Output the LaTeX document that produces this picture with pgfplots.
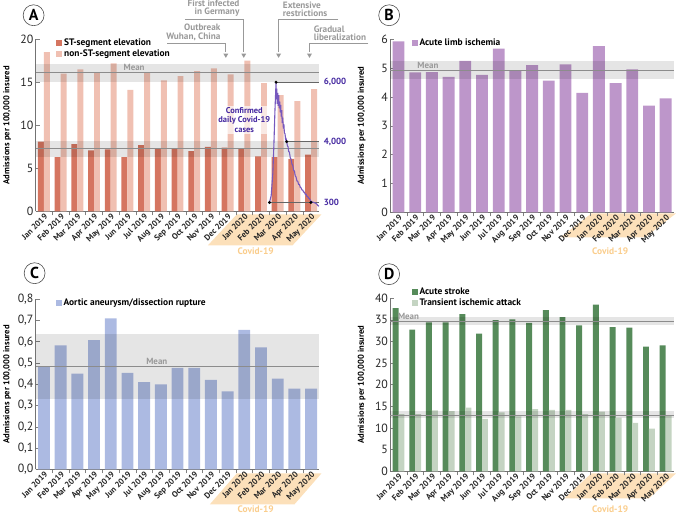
\documentclass[border=0pt]{standalone}
\usepackage{fontspec}
\setmainfont{PT Sans}
\usepackage{pgfplots}
\usepackage{pgfplotstable}
\pgfplotsset{compat=1.18}

\definecolor{stcol}{RGB}{213,117,96}
\definecolor{nstcol}{RGB}{240,192,178}
\definecolor{limbcol}{RGB}{189,150,202}
\definecolor{aortcol}{RGB}{172,186,226}
\definecolor{strokecol}{RGB}{86,139,90}
\definecolor{tiacol}{RGB}{196,212,194}
\definecolor{covline}{RGB}{118,88,190}
\definecolor{covtxt}{RGB}{68,40,160}
\definecolor{bandcol}{RGB}{252,224,186}
\definecolor{covlbl}{RGB}{250,205,140}

% monthly admissions per 100,000 insured
\pgfplotstableread{
idx st  nst  limb aortic stroke tia
0   8.1 18.5 5.92 0.485  37.7   13.2
1   6.3 16.0 4.85 0.583  32.7   13.2
2   7.8 16.5 4.86 0.450  34.4   14.1
3   7.1 16.1 4.69 0.607  34.4   13.9
4   7.2 17.2 5.25 0.710  36.3   14.7
5   6.3 14.1 4.76 0.454  31.8   12.1
6   7.7 16.1 5.67 0.410  34.9   13.6
7   7.3 15.2 4.91 0.400  35.1   12.7
8   7.3 15.7 5.10 0.477  34.3   14.4
9   7.0 16.3 4.56 0.477  37.2   14.2
10  7.5 16.6 5.13 0.421  35.6   14.2
11  7.4 15.9 4.14 0.367  33.7   13.2
12  7.3 17.5 5.76 0.655  38.5   13.8
13  6.4 14.9 4.48 0.573  33.3   12.4
14  6.3 13.5 4.95 0.426  33.2   11.2
15  6.1 12.8 3.70 0.380  28.8    9.9
16  6.6 14.2 3.95 0.380  29.1   12.9
}\monthly

\pgfplotsset{
  panel/.style={
    scale only axis, width=285bp,
    xmin=-0.5, xmax=16.5, ymin=0, enlargelimits=false,
    axis x line=bottom, axis y line=left,
    axis line style={-, draw=black!55, line width=0.6pt},
    tick align=inside, major tick length=0pt, minor tick length=4bp,
    tick style={draw=black!50, line width=0.5pt},
    xtick={0,...,16},
    minor xtick={0.5,1.5,...,15.5},
    xticklabels={Jan 2019,Feb 2019,Mar 2019,Apr 2019,May 2019,Jun 2019,Jul 2019,Aug 2019,Sep 2019,Oct 2019,Nov 2019,Dec 2019,Jan 2020,Feb 2020,Mar 2020,Apr 2020,May 2020},
    x tick label style={rotate=45, anchor=north east, inner sep=1pt,
      font=\bfseries\fontsize{8.4}{9}\selectfont, text=black!85},
    y tick label style={font=\fontsize{12}{13}\selectfont, text=black!85, inner sep=2pt},
    /pgf/number format/assume math mode=true,
    ylabel={Admissions per 100,000 insured},
    ylabel style={at={(axis description cs:-0.1,0.5)}, anchor=center,
      font=\bfseries\fontsize{8.6}{9}\selectfont},
    ybar,
    legend cell align=left,
    legend style={draw=none, fill=none, anchor=north west, inner sep=0pt,
      font=\bfseries\fontsize{9.5}{10}\selectfont, row sep=-1.5pt},
    legend image code/.code={\fill[##1] (0bp,-3bp) rectangle (6bp,3bp);},
  },
}

% mean band: low, mean, high
\newcommand\meanband[3]{%
  \fill[black, fill opacity=0.1] (axis cs:-0.5,#1) rectangle (axis cs:16.5,#3);
  \draw[black!45, line width=0.6pt] (axis cs:-0.5,#2) -- (axis cs:16.5,#2);}
\newcommand\meanlabel[2]{%
  \node[text=black!40, font=\bfseries\fontsize{9}{9}\selectfont] at (axis cs:#1,#2) {Mean};}

% covid band under tick labels: x0, y0, top offset, height, slant, text offset
\newcommand\covidband[6]{%
  \fill[bandcol] (#1+202,#2+#3) -- (#1+287,#2+#3) -- (#1+287-#5,#2+#3-#4) -- (#1+202-#5,#2+#3-#4) -- cycle;
  \node[text=covlbl, font=\bfseries\fontsize{9.5}{10}\selectfont] at (#1+221,#2+#6) {Covid-19};}

\newcommand\panelletter[3]{%
  \node[circle, draw=black!70, line width=0.6pt, minimum size=21bp, inner sep=0pt,
    font=\bfseries\fontsize{16}{16}\selectfont] at (#1,#2) {#3};}

\newcommand\event[1]{\fill[black!40] (#1-2.5,462.5) -- (#1+2.5,462.5) -- (#1,458.2) -- cycle;}

\begin{document}
\begin{tikzpicture}
\begin{scope}[x=1bp,y=1bp]
\path[use as bounding box] (0,0) rectangle (676,513);
\covidband{33}{304}{-3}{31}{29}{-40}
\covidband{389}{303}{-1}{24}{31}{-39}
\covidband{33}{45}{-4}{31}{27}{-40}
\covidband{389}{43}{-2}{25}{27}{-38}
\end{scope}

% ---------- A ----------
\begin{axis}[panel, at={(33bp,304bp)}, anchor=south west, height=173bp,
  ymax=20, ytick={0,5,...,20}, minor ytick={0,5,...,20},
  legend style={at={(axis description cs:0.072,1.015)}}]
\addplot[fill=stcol, draw=none, bar width=0.357, bar shift=-0.1785] table[x=idx,y=st] {\monthly};
\addplot[fill=nstcol, draw=none, bar width=0.357, bar shift=0.1785] table[x=idx,y=nst] {\monthly};
\legend{ST-segment elevation, non-ST-segment elevation}
\meanband{15.0}{16.1}{17.1}
\meanband{6.3}{7.3}{8.2}
\meanlabel{5.4}{16.75}
\end{axis}

\begin{axis}[at={(33bp,304bp)}, anchor=south west, scale only axis, width=285bp, height=173bp,
  xmin=-0.5, xmax=16.5, ymin=0, ymax=8000, hide axis, clip=false]
\node[fill=white, fill opacity=0.65, text opacity=1, text=covtxt, align=center,
  inner sep=1.5pt, font=\bfseries\fontsize{8.5}{9.5}\selectfont] at (axis cs:12,4250)
  {Confirmed\\daily Covid-19\\cases};
\addplot[black!60, line width=0.6pt] coordinates {(13.90,6000) (16.5,6000)};
\addplot[black!60, line width=0.6pt] coordinates {(14.54,3240) (16.5,3240)};
\addplot[black!60, line width=0.6pt] coordinates {(13.51,416) (16.5,416)};
\addplot[covline, line width=1.1pt] coordinates {
(13.51,420)(13.61,740)(13.71,1800)(13.77,3050)(13.83,4580)(13.90,6000)(13.92,5200)
(13.94,5700)(13.97,5000)(14.00,5500)(14.03,4900)(14.06,5400)(14.09,4800)(14.12,5100)
(14.15,4600)(14.18,4950)(14.21,4400)(14.24,4700)(14.27,4100)(14.30,4350)(14.34,3850)
(14.37,4050)(14.40,3650)(14.44,3600)(14.47,3350)(14.50,3380)(14.54,3240)(14.58,3050)
(14.62,3000)(14.66,2780)(14.70,2760)(14.75,2500)(14.80,2430)(14.85,2200)(14.90,2150)
(14.95,1920)(15.00,1880)(15.05,1650)(15.10,1600)(15.15,1420)(15.20,1400)(15.25,1260)
(15.30,1250)(15.35,1120)(15.39,1110)(15.45,1000)(15.50,990)(15.55,900)(15.60,890)
(15.65,800)(15.70,800)(15.75,700)(15.80,690)(15.85,620)(15.90,600)(15.95,520)
(15.99,470)(16.05,450)(16.10,430)(16.15,420)(16.20,400)(16.25,390)(16.29,370)
(16.34,340)(16.38,300)(16.42,270)(16.46,240)};
\addplot[only marks, mark=*, mark size=1.3pt, black] coordinates {(13.90,6000)(14.54,3240)(13.51,416)(15.99,416)};
\node[anchor=west, text=covtxt, font=\bfseries\fontsize{9}{9}\selectfont] at (axis cs:16.55,6000) {6,000};
\node[anchor=west, text=covtxt, font=\bfseries\fontsize{9}{9}\selectfont] at (axis cs:16.55,3240) {4,000};
\node[anchor=west, text=covtxt, font=\bfseries\fontsize{9}{9}\selectfont] at (axis cs:16.55,416) {300};
\end{axis}

% ---------- B ----------
\begin{axis}[panel, at={(389bp,303bp)}, anchor=south west, height=174bp,
  ymax=6, ytick={0,1,...,6}, minor ytick={0,1,...,6},
  legend style={at={(axis description cs:0.075,1.015)}}]
\addplot[fill=limbcol, draw=none, bar width=0.71, bar shift=0] table[x=idx,y=limb] {\monthly};
\legend{Acute limb ischemia}
\meanband{4.63}{4.93}{5.23}
\meanlabel{1.76}{5.1}
\end{axis}

% ---------- C ----------
\begin{axis}[panel, at={(33bp,45bp)}, anchor=south west, height=171bp,
  ymax=0.8, ytick={0,0.1,...,0.8}, minor ytick={0,0.1,...,0.8},
  yticklabel style={/pgf/number format/.cd, fixed, fixed zerofill, precision=1, use comma},
  legend style={at={(axis description cs:0.07,1.015)}}]
\addplot[fill=aortcol, draw=none, bar width=0.71, bar shift=0] table[x=idx,y=aortic] {\monthly};
\legend{Aortic aneurysm/dissection rupture}
\meanband{0.331}{0.486}{0.638}
\meanlabel{6.76}{0.505}
\end{axis}

% ---------- D ----------
\begin{axis}[panel, at={(389bp,43bp)}, anchor=south west, height=174bp,
  ymax=40, ytick={0,5,...,40}, minor ytick={0,5,...,40},
  legend style={at={(axis description cs:0.075,1.07)}}]
\addplot[fill=strokecol, draw=none, bar width=0.357, bar shift=-0.1785] table[x=idx,y=stroke] {\monthly};
\addplot[fill=tiacol, draw=none, bar width=0.357, bar shift=0.1785] table[x=idx,y=tia] {\monthly};
\legend{Acute stroke, Transient ischemic attack}
\meanband{33.7}{34.6}{35.6}
\meanband{12.3}{12.85}{14.0}
\meanlabel{0.6}{35.8}
\end{axis}

\begin{scope}[x=1bp,y=1bp]
% events
\begin{scope}[black!40, line width=0.7pt]
\node[anchor=south east, align=right, inner sep=0pt, font=\bfseries\fontsize{9.3}{8.5}\selectfont] at (238,499) {First infected\\in Germany};
\draw (183,497) -- (242,497) -- (242,464);
\node[anchor=south east, align=right, inner sep=0pt, font=\bfseries\fontsize{9.3}{8.5}\selectfont] at (219,475) {Outbreak\\Wuhan, China};
\draw (165,473) -- (224,473) -- (224,464);
\node[anchor=south west, align=left, inner sep=0pt, font=\bfseries\fontsize{9.3}{8.5}\selectfont] at (281,499) {Extensive\\restrictions};
\draw (337,497) -- (277,497) -- (277,464);
\node[anchor=south west, align=left, inner sep=0pt, font=\bfseries\fontsize{9.3}{8.5}\selectfont] at (312,475) {Gradual\\liberalization};
\draw (367,473) -- (308,473) -- (308,464);
\event{224}\event{242}\event{277}\event{308}
\end{scope}
\panelletter{31}{501}{A}
\panelletter{388}{501}{B}
\panelletter{32}{242}{C}
\panelletter{388}{241}{D}
\end{scope}
\end{tikzpicture}
\end{document}
